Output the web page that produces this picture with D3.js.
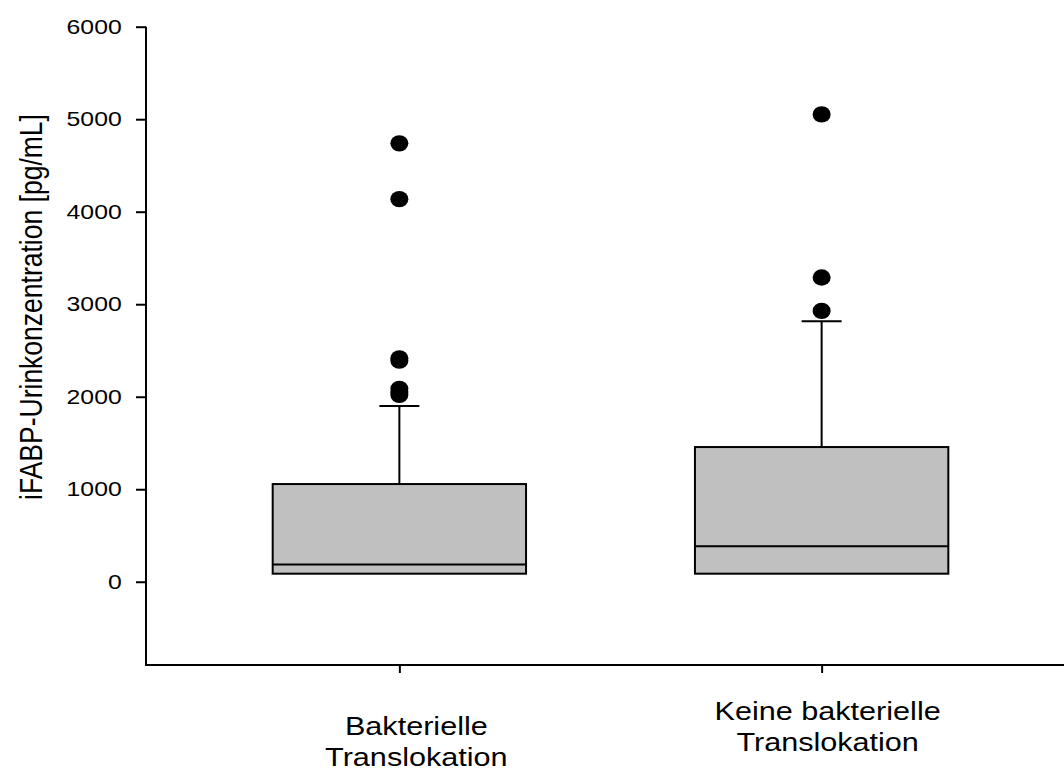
<!DOCTYPE html>
<html>
<head>
<meta charset="utf-8">
<script src="https://cdn.jsdelivr.net/npm/d3@7"></script>
<style>
  body { margin: 0; background: #fff; }
  text { font-family: "Liberation Sans", Arial, sans-serif; fill: #000; }
</style>
</head>
<body>
<div id="vis"></div>
<script>
// data
let categories = ["Bakterielle Translokation", "Keine bakterielle Translokation"];
let labelLines = [["Bakterielle", "Translokation"], ["Keine bakterielle", "Translokation"]];
let q1 = [87, 87];
let median = [187, 385];
let q3 = [1056, 1456];
let whiskerHigh = [1900, 2816];
let outliers = [
  [2020, 2050, 2085, 2390, 2415, 4136, 4739],
  [2928, 3289, 5052]
];
let yTicks = [0, 1000, 2000, 3000, 4000, 5000, 6000];

let width = 1064, height = 771;
let plot = {left: 146, top: 26.7, bottom: 665, right: 1075};
let stretch = 1.2; // the original's text is a bit wider than tall

let svg = d3.select('#vis')
  .append('svg')
  .attr('width', width)
  .attr('height', height);

let y = d3.scaleLinear().domain([-900, 6000]).range([plot.bottom, plot.top]);
let x = d3.scalePoint().domain(categories).range([plot.left, plot.right]).padding(0.6);
let boxW = x.step() * 0.6;
let capW = 40;

// boxes
let groups = svg.selectAll('.box')
  .data(categories)
  .enter().append('g')
  .attr('class', 'box')
  .attr('transform', d => `translate(${x(d)},0)`);

groups.append('line') // upper whisker
  .attr('x1', 0).attr('x2', 0)
  .attr('y1', (d, i) => y(q3[i]))
  .attr('y2', (d, i) => y(whiskerHigh[i]))
  .attr('stroke', '#000').attr('stroke-width', 2);

groups.append('line') // cap
  .attr('x1', -capW / 2).attr('x2', capW / 2)
  .attr('y1', (d, i) => y(whiskerHigh[i]))
  .attr('y2', (d, i) => y(whiskerHigh[i]))
  .attr('stroke', '#000').attr('stroke-width', 2);

groups.append('rect')
  .attr('x', -boxW / 2)
  .attr('width', boxW)
  .attr('y', (d, i) => y(q3[i]))
  .attr('height', (d, i) => y(q1[i]) - y(q3[i]))
  .attr('fill', '#c0c0c0')
  .attr('stroke', '#000').attr('stroke-width', 2);

groups.append('line') // median
  .attr('x1', -boxW / 2).attr('x2', boxW / 2)
  .attr('y1', (d, i) => y(median[i]))
  .attr('y2', (d, i) => y(median[i]))
  .attr('stroke', '#000').attr('stroke-width', 2);

groups.selectAll('ellipse')
  .data((d, i) => outliers[i])
  .enter().append('ellipse')
  .attr('cx', 0)
  .attr('cy', v => y(v))
  .attr('rx', 9).attr('ry', 8.2)
  .attr('fill', '#000');

// axes
let yAxis = d3.axisLeft(y).tickValues(yTicks).tickFormat(d3.format('d'))
  .tickSize(10).tickSizeOuter(0).tickPadding(0);
let gy = svg.append('g')
  .attr('transform', `translate(${plot.left},0)`)
  .call(yAxis);
gy.select('.domain').remove();
gy.selectAll('line').attr('stroke', '#000').attr('stroke-width', 2);
gy.selectAll('text')
  .attr('x', -24.3 / 1.24)
  .attr('transform', 'scale(1.24,1)')
  .style('font-size', '20px')
  .style('font-family', '"Liberation Sans", Arial, sans-serif')
  .attr('fill', '#000');

let xAxis = d3.axisBottom(x).tickSize(8).tickSizeOuter(0).tickFormat('');
let gx = svg.append('g')
  .attr('transform', `translate(0,${plot.bottom})`)
  .call(xAxis);
gx.select('.domain').remove();
gx.selectAll('line').attr('stroke', '#000').attr('stroke-width', 2);

// axis frame lines
svg.append('path')
  .attr('d', `M${plot.left},${y(6000)}V${plot.bottom}H${plot.right}`)
  .attr('fill', 'none')
  .attr('stroke', '#000').attr('stroke-width', 2);

// category labels
let labelPos = [{dx: 17, y: 735}, {dx: 6, y: 720}];
categories.forEach((c, i) => {
  labelLines[i].forEach((t, j) => {
    svg.append('text')
      .attr('transform', `translate(${x(c) + labelPos[i].dx},${labelPos[i].y + j * 31}) scale(${stretch},1)`)
      .attr('text-anchor', 'middle')
      .style('font-size', '25.5px')
      .text(t);
  });
});

// y label
svg.append('text')
  .attr('transform', `translate(41.7,307) scale(${stretch},1) rotate(-90)`)
  .attr('text-anchor', 'middle')
  .style('font-size', '26.5px')
  .text('iFABP-Urinkonzentration [pg/mL]');
</script>
</body>
</html>
